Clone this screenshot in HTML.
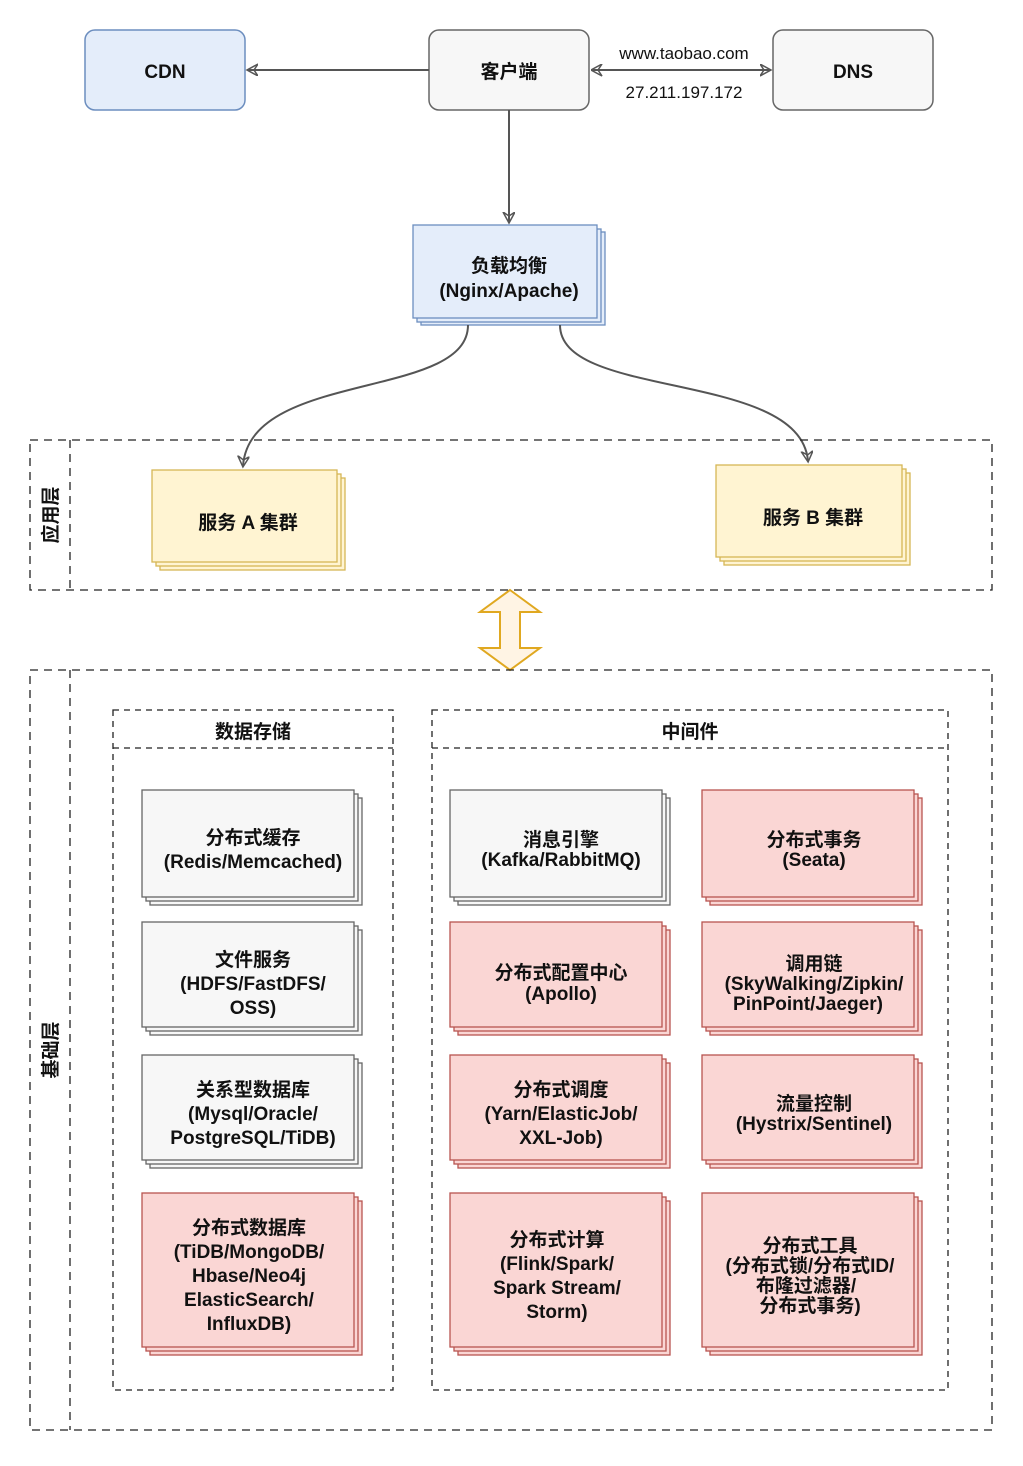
<!DOCTYPE html>
<html><head><meta charset="utf-8"><style>
html,body{margin:0;padding:0;background:#fff}
svg text{font-family:"Liberation Sans","Noto Sans CJK SC",sans-serif;font-weight:bold;fill:#111;text-anchor:middle}
</style></head><body>
<svg width="1023" height="1461" viewBox="0 0 1023 1461" xmlns="http://www.w3.org/2000/svg">
<defs>
<marker id="ah" markerWidth="14" markerHeight="14" refX="10" refY="6" orient="auto" markerUnits="userSpaceOnUse">
<path d="M0,0 L11,6 L0,12 L4,6 Z" fill="none" stroke="#555" stroke-width="1.5"/></marker>
<marker id="ahs" markerWidth="14" markerHeight="14" refX="1" refY="6" orient="auto" markerUnits="userSpaceOnUse">
<path d="M11,0 L0,6 L11,12 L7,6 Z" fill="none" stroke="#555" stroke-width="1.5"/></marker>
</defs>
<!-- top row -->
<rect x="85" y="30" width="160" height="80" rx="10" fill="#e4edfa" stroke="#6c8ebf" stroke-width="1.5"/>
<text x="165" y="78" font-size="19">CDN</text>
<rect x="429" y="30" width="160" height="80" rx="10" fill="#f7f7f7" stroke="#666" stroke-width="1.5"/>
<text x="509" y="78" font-size="19">客户端</text>
<rect x="773" y="30" width="160" height="80" rx="10" fill="#f7f7f7" stroke="#666" stroke-width="1.5"/>
<text x="853" y="78" font-size="19">DNS</text>
<line x1="429" y1="70" x2="248" y2="70" stroke="#555" stroke-width="2" marker-end="url(#ah)"/>
<line x1="592" y1="70" x2="770" y2="70" stroke="#555" stroke-width="2" marker-end="url(#ah)" marker-start="url(#ahs)"/>
<text x="684" y="59" font-size="17" style="font-weight:normal">www.taobao.com</text>
<text x="684" y="98" font-size="17" style="font-weight:normal">27.211.197.172</text>
<line x1="509" y1="110" x2="509" y2="222" stroke="#555" stroke-width="2" marker-end="url(#ah)"/>
<!-- LB -->
<g fill="#e4edfa" stroke="#6c8ebf" stroke-width="1.3">
<rect x="421" y="232" width="184" height="93"/><rect x="417" y="229" width="184" height="93"/><rect x="413" y="225" width="184" height="93"/></g>
<text x="509" y="272" font-size="19">负载均衡</text>
<text x="509" y="297" font-size="19">(Nginx/Apache)</text>
<path d="M468,325 C468,400 250,370 243,466" fill="none" stroke="#555" stroke-width="2" marker-end="url(#ah)"/>
<path d="M560,325 C560,400 800,370 808,461" fill="none" stroke="#555" stroke-width="2" marker-end="url(#ah)"/>
<!-- app layer -->
<rect x="30" y="440" width="962" height="150" fill="none" stroke="#222" stroke-dasharray="8,6" stroke-width="1.3"/>
<line x1="70" y1="440" x2="70" y2="590" stroke="#222" stroke-dasharray="8,6" stroke-width="1.3"/>
<text font-size="19" transform="translate(57,515) rotate(-90)">应用层</text>
<g fill="#fff4d2" stroke="#d6b656" stroke-width="1.3">
<rect x="160" y="478" width="185" height="92"/><rect x="156" y="474" width="185" height="92"/><rect x="152" y="470" width="185" height="92"/>
<rect x="724" y="473" width="186" height="92"/><rect x="720" y="469" width="186" height="92"/><rect x="716" y="465" width="186" height="92"/></g>
<text x="248" y="529" font-size="19">服务 A 集群</text>
<text x="813" y="524" font-size="19">服务 B 集群</text>
<!-- double arrow -->
<path d="M510,590 L540,612 L520,612 L520,648 L540,648 L510,670 L480,648 L500,648 L500,612 L480,612 Z" fill="#fff4e4" stroke="#e0a820" stroke-width="2"/>
<!-- base layer -->
<rect x="30" y="670" width="962" height="760" fill="none" stroke="#222" stroke-dasharray="8,6" stroke-width="1.3"/>
<line x1="70" y1="670" x2="70" y2="1430" stroke="#222" stroke-dasharray="8,6" stroke-width="1.3"/>
<text font-size="19" transform="translate(57,1050) rotate(-90)">基础层</text>
<rect x="113" y="710" width="280" height="680" fill="none" stroke="#222" stroke-dasharray="6,5" stroke-width="1.3"/>
<line x1="113" y1="748" x2="393" y2="748" stroke="#222" stroke-dasharray="6,5" stroke-width="1.3"/>
<text x="253" y="738" font-size="19">数据存储</text>
<rect x="432" y="710" width="516" height="680" fill="none" stroke="#222" stroke-dasharray="6,5" stroke-width="1.3"/>
<line x1="432" y1="748" x2="948" y2="748" stroke="#222" stroke-dasharray="6,5" stroke-width="1.3"/>
<text x="690" y="738" font-size="19">中间件</text>
<!-- gray boxes -->
<g fill="#f7f7f7" stroke="#666" stroke-width="1.3">
<rect x="150" y="798" width="212" height="107"/><rect x="146" y="794" width="212" height="107"/><rect x="142" y="790" width="212" height="107"/>
<rect x="150" y="930" width="212" height="105"/><rect x="146" y="926" width="212" height="105"/><rect x="142" y="922" width="212" height="105"/>
<rect x="150" y="1063" width="212" height="105"/><rect x="146" y="1059" width="212" height="105"/><rect x="142" y="1055" width="212" height="105"/>
<rect x="458" y="798" width="212" height="107"/><rect x="454" y="794" width="212" height="107"/><rect x="450" y="790" width="212" height="107"/>
</g>
<!-- red boxes -->
<g fill="#fad6d4" stroke="#b85450" stroke-width="1.3">
<rect x="150" y="1201" width="212" height="154"/><rect x="146" y="1197" width="212" height="154"/><rect x="142" y="1193" width="212" height="154"/>
<rect x="458" y="930" width="212" height="105"/><rect x="454" y="926" width="212" height="105"/><rect x="450" y="922" width="212" height="105"/>
<rect x="458" y="1063" width="212" height="105"/><rect x="454" y="1059" width="212" height="105"/><rect x="450" y="1055" width="212" height="105"/>
<rect x="458" y="1201" width="212" height="154"/><rect x="454" y="1197" width="212" height="154"/><rect x="450" y="1193" width="212" height="154"/>
<rect x="710" y="798" width="212" height="107"/><rect x="706" y="794" width="212" height="107"/><rect x="702" y="790" width="212" height="107"/>
<rect x="710" y="930" width="212" height="105"/><rect x="706" y="926" width="212" height="105"/><rect x="702" y="922" width="212" height="105"/>
<rect x="710" y="1063" width="212" height="105"/><rect x="706" y="1059" width="212" height="105"/><rect x="702" y="1055" width="212" height="105"/>
<rect x="710" y="1201" width="212" height="154"/><rect x="706" y="1197" width="212" height="154"/><rect x="702" y="1193" width="212" height="154"/>
</g>
<g font-size="19">
<text x="253" y="844">分布式缓存</text><text x="253" y="868">(Redis/Memcached)</text>
<text x="253" y="966">文件服务</text><text x="253" y="990">(HDFS/FastDFS/</text><text x="253" y="1014">OSS)</text>
<text x="253" y="1096">关系型数据库</text><text x="253" y="1120">(Mysql/Oracle/</text><text x="253" y="1144">PostgreSQL/TiDB)</text>
<text x="249" y="1234">分布式数据库</text><text x="249" y="1258">(TiDB/MongoDB/</text><text x="249" y="1282">Hbase/Neo4j</text><text x="249" y="1306">ElasticSearch/</text><text x="249" y="1330">InfluxDB)</text>
<text x="561" y="846">消息引擎</text><text x="561" y="866">(Kafka/RabbitMQ)</text>
<text x="561" y="979">分布式配置中心</text><text x="561" y="1000">(Apollo)</text>
<text x="561" y="1096">分布式调度</text><text x="561" y="1120">(Yarn/ElasticJob/</text><text x="561" y="1144">XXL-Job)</text>
<text x="557" y="1246">分布式计算</text><text x="557" y="1270">(Flink/Spark/</text><text x="557" y="1294">Spark Stream/</text><text x="557" y="1318">Storm)</text>
<text x="814" y="846">分布式事务</text><text x="814" y="866">(Seata)</text>
<text x="814" y="970">调用链</text><text x="814" y="990">(SkyWalking/Zipkin/</text><text x="808" y="1010">PinPoint/Jaeger)</text>
<text x="814" y="1110">流量控制</text><text x="814" y="1130">(Hystrix/Sentinel)</text>
<text x="810" y="1252">分布式工具</text><text x="810" y="1272">(分布式锁/分布式ID/</text><text x="806" y="1292">布隆过滤器/</text><text x="810" y="1312">分布式事务)</text>
</g>
</svg>
</body></html>
